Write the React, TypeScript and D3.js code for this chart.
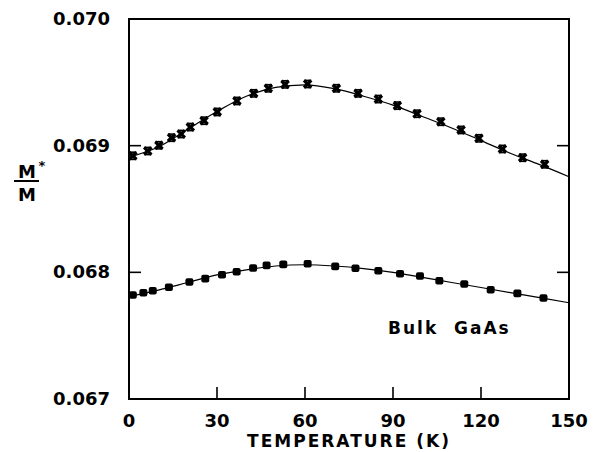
import React from "react";
import * as d3 from "d3";

// Measured data (crosses: upper series; squares: lower series)
const upperT = [1.3, 6.4, 10.2, 14.5, 17.8, 20.9, 25.6, 30.1, 36.8, 42.5, 47.5, 53.2, 60.9, 70.7, 78.1, 85.0, 91.5, 98.2, 106.3, 113.2, 119.3, 127.3, 134.2, 141.7];
const upperM = [0.06892, 0.068958, 0.069003, 0.069063, 0.069092, 0.069147, 0.069197, 0.069266, 0.069353, 0.069413, 0.069453, 0.069484, 0.069487, 0.069453, 0.069413, 0.069368, 0.069316, 0.069252, 0.069189, 0.069124, 0.069058, 0.068974, 0.068905, 0.068853];

const lowerT = [1.3, 4.9, 8.1, 13.6, 20.6, 26.0, 31.7, 36.7, 42.3, 46.9, 52.6, 60.9, 70.3, 77.2, 85.0, 92.4, 99.2, 105.8, 114.3, 123.3, 132.4, 141.3];
const lowerM = [0.067821, 0.067839, 0.067855, 0.067882, 0.067924, 0.06795, 0.067981, 0.068005, 0.068034, 0.068055, 0.068063, 0.068068, 0.068047, 0.068032, 0.068013, 0.067989, 0.067971, 0.067934, 0.067908, 0.067863, 0.067834, 0.067797];

// Fitted curves
const fitT = [0, 10, 20, 30, 40, 50, 60, 70, 80, 90, 100, 110, 120, 130, 140, 150];
const upperFit = [0.06891, 0.06899, 0.06913, 0.06927, 0.06939, 0.06946, 0.06948, 0.06945, 0.06939, 0.06932, 0.06923, 0.06914, 0.06904, 0.06894, 0.06885, 0.068755];
const lowerFit = [0.06781, 0.06786, 0.06792, 0.06798, 0.06802, 0.06805, 0.06806, 0.06805, 0.06803, 0.068, 0.06796, 0.06792, 0.06788, 0.06784, 0.0678, 0.06776];

const xTicks = [0, 30, 60, 90, 120, 150];
const yTicks = [0.067, 0.068, 0.069, 0.07];
const xTickLabels = ["0", "30", "60", "90", "120", "150"];
const yTickLabels = ["0.067", "0.068", "0.069", "0.070"];

const L = 129, R = 569, T = 19, B = 399;
const FONT = "'DejaVu Sans', sans-serif";

export default function App() {
  const x = d3.scaleLinear().domain([0, 150]).range([L, R]);
  const y = d3.scaleLinear().domain([0.067, 0.07]).range([B, T]);
  const line = d3
    .line<number>()
    .x((_, i) => x(fitT[i]))
    .y((d) => y(d))
    .curve(d3.curveMonotoneX);

  const s = 3.6;
  return (
    <svg width={600} height={452} style={{ position: "absolute", left: 0, top: 0, background: "#fff" }}>
      <rect x={L} y={T} width={R - L} height={B - T} fill="none" stroke="#000" strokeWidth={2} />
      {xTicks.slice(1, -1).map((t) => (
        <line key={"xt" + t} x1={x(t)} x2={x(t)} y1={B} y2={B - 12} stroke="#000" strokeWidth={1.6} />
      ))}
      {yTicks.slice(1, -1).map((t) => (
        <g key={"yt" + t}>
          <line x1={L} x2={L + 12} y1={y(t)} y2={y(t)} stroke="#000" strokeWidth={1.6} />
          <line x1={R} x2={R - 12} y1={y(t)} y2={y(t)} stroke="#000" strokeWidth={1.6} />
        </g>
      ))}
      {xTicks.map((t, i) => (
        <text key={"xl" + t} x={x(t)} y={427} textAnchor="middle" fontFamily={FONT} fontWeight="bold" fontSize={18}>
          {xTickLabels[i]}
        </text>
      ))}
      {yTicks.map((t, i) => (
        <text key={"yl" + t} x={110} y={y(t) + 6} textAnchor="end" fontFamily={FONT} fontWeight="bold" fontSize={18}>
          {yTickLabels[i]}
        </text>
      ))}
      <text x={349} y={447} textAnchor="middle" fontFamily={FONT} fontWeight="bold" fontSize={17} letterSpacing={2}>
        TEMPERATURE (K)
      </text>
      <text x={27} y={178} textAnchor="middle" fontFamily={FONT} fontWeight="bold" fontSize={18}>M</text>
      <text x={42} y={170} textAnchor="middle" fontFamily={FONT} fontWeight="bold" fontSize={13}>*</text>
      <line x1={14} x2={39} y1={181} y2={181} stroke="#000" strokeWidth={2} />
      <text x={27} y={201} textAnchor="middle" fontFamily={FONT} fontWeight="bold" fontSize={18}>M</text>
      <text x={388} y={334} fontFamily={FONT} fontWeight="bold" fontSize={17} letterSpacing={2} style={{ whiteSpace: "pre" }}>
        {"Bulk  GaAs"}
      </text>
      <path d={line(upperFit) || ""} fill="none" stroke="#000" strokeWidth={1.2} />
      <path d={line(lowerFit) || ""} fill="none" stroke="#000" strokeWidth={1.2} />
      {upperT.map((t, i) => {
        const cx = x(t), cy = y(upperM[i]);
        return (
          <g key={"u" + i} stroke="#000">
            <line x1={cx - s} y1={cy - s} x2={cx + s} y2={cy + s} strokeWidth={3.4} />
            <line x1={cx - s} y1={cy + s} x2={cx + s} y2={cy - s} strokeWidth={3.4} />
            <line x1={cx - s} y1={cy - s} x2={cx + s} y2={cy - s} strokeWidth={1.6} />
            <line x1={cx - s} y1={cy + s} x2={cx + s} y2={cy + s} strokeWidth={1.6} />
          </g>
        );
      })}
      {lowerT.map((t, i) => (
        <rect key={"l" + i} x={x(t) - 4} y={y(lowerM[i]) - 3.8} width={8} height={7.6} rx={2} fill="#000" />
      ))}
    </svg>
  );
}
